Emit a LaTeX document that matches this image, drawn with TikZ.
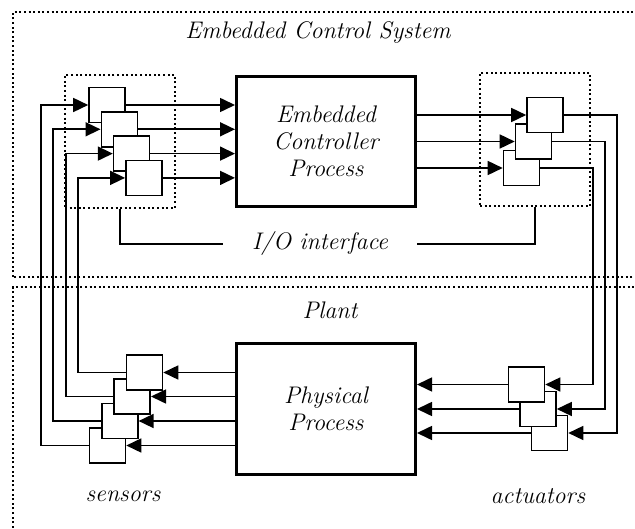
\documentclass[tikz,border=0pt]{standalone}
\usetikzlibrary{arrows.meta, positioning, calc}
\tikzset{
  iobox/.style={draw, fill=white, line width=1.6pt, minimum width=36pt, minimum height=35pt, inner sep=0pt},
  procbox/.style={draw, fill=white, line width=3pt, minimum width=179pt, minimum height=130pt, align=center, font=\itshape\fontsize{24}{27}\selectfont},
  dotbox/.style={draw, line width=2pt, dash pattern=on 2pt off 2.6pt},
  wire/.style={line width=1.6pt},
  arr/.style={wire, -{Triangle[length=15pt,width=14pt]}},
  lbl/.style={font=\itshape\fontsize{24}{27}\selectfont},
}
\begin{document}
\begin{tikzpicture}[x=1pt, y=-1pt]
  \useasboundingbox (0,0) rectangle (635,529);
  % Outer regions
  \draw[dotbox] (13,277) -- (13,12) -- (660,12);
  \draw[dotbox] (660,277) -- (13,277);
  \draw[dotbox] (13,560) -- (13,287) -- (660,287);
  \node[lbl] (ecs) at (318,33) {Embedded Control System};
  \node[lbl] (plant) at (330,310) {Plant};
  % Processes
  \node[procbox] (ctrl) at (326,141.5) {Embedded\\Controller\\Process};
  \node[procbox] (phys) at (326,409) {Physical\\Process};
  % I/O interface groups
  \node[dotbox, minimum width=110pt, minimum height=133pt] (inbox) at (120,141.5) {};
  \node[dotbox, minimum width=110pt, minimum height=133pt] (outbox) at (535,139.5) {};
  \node[lbl, inner xsep=29pt] (io) at (320,244) {I/O interface};
  \draw[wire] (inbox.south) |- (io.west);
  \draw[wire] (outbox.south) |- (io.east);
  % Input adapters (in1 at the back)
  \foreach \i/\xx/\yy in {1/107/105,2/119.3/129.3,3/131.6/153.6,4/143.9/177.9}
    \node[iobox] (in\i) at (\xx,\yy) {};
  % Output adapters (out1 in front)
  \foreach \i/\xx/\yy in {3/521.5/168,2/533.5/141.5,1/545/115}
    \node[iobox] (out\i) at (\xx,\yy) {};
  % Sensors (s1 in front)
  \foreach \i/\xx/\yy in {4/107.5/445.5,3/119.8/421,2/132.2/396.5,1/144.5/372.5}
    \node[iobox] (s\i) at (\xx,\yy) {};
  % Actuators (a1 in front)
  \foreach \i/\xx/\yy in {3/549.5/433,2/538/409,1/526.5/384.5}
    \node[iobox] (a\i) at (\xx,\yy) {};
  % Feedback buses
  \foreach \i/\xx in {1/41,2/53,3/66,4/78}
    \coordinate (fb\i) at (\xx,0);
  \foreach \i/\xx in {1/617,2/605,3/593}
    \coordinate (fa\i) at (\xx,0);
  % Plant -> sensors -> controller
  \foreach \i/\j in {1/4,2/3,3/2,4/1} {
    \draw[arr] (phys.west |- s\j.east) -- (s\j.east);
    \draw[arr] (s\j.west) -- (s\j.west -| fb\i) |- (in\i.west);
    \draw[arr] (in\i.east) -- (ctrl.west |- in\i.east);
  }
  % Controller -> actuators -> plant
  \foreach \i/\j in {1/3,2/2,3/1} {
    \draw[arr] (ctrl.east |- out\i.west) -- (out\i.west);
    \draw[arr] (out\i.east) -- (out\i.east -| fa\i) |- (a\j.east);
    \draw[arr] (a\j.west) -- (phys.east |- a\j.west);
  }
  % Labels
  \node[lbl] (sens) at (123,496) {sensors};
  \node[lbl] (act) at (538,496) {actuators};
\end{tikzpicture}
\end{document}
